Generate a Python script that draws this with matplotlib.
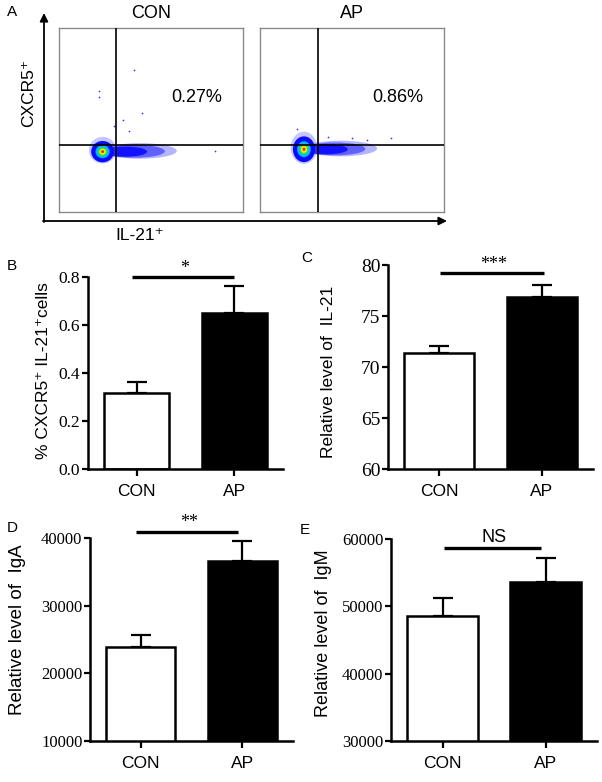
import matplotlib
matplotlib.use('Agg')
import matplotlib.pyplot as plt
from matplotlib.patches import Ellipse

# ── canvas ──────────────────────────────────────────────────────────────────
W, H = 602, 782
SANS = ['Liberation Sans', 'DejaVu Sans']
SERIF = ['Liberation Serif', 'DejaVu Serif']

# ── data ────────────────────────────────────────────────────────────────────
groups = ['CON', 'AP']
flow_pct = ['0.27%', '0.86%']
# gate positions (fraction of each flow box)
gate_x = [0.31, 0.315]
gate_y = [0.365, 0.365]
# population centre, core radii and tail end (fraction of box)
blob_center = [(0.237, 0.328), (0.239, 0.341)]
blob_radius = [(0.062, 0.058), (0.060, 0.070)]
tail_end = [0.64, 0.636]
# sparse events
outliers_con = [(0.41, 0.77), (0.22, 0.66), (0.22, 0.625), (0.45, 0.54),
                (0.35, 0.50), (0.85, 0.33), (0.30, 0.47), (0.38, 0.44)]
outliers_ap = [(0.71, 0.40), (0.37, 0.41), (0.20, 0.45), (0.50, 0.40),
               (0.58, 0.39)]

b_mean = [0.318, 0.648]
b_err = [0.046, 0.113]
c_mean = [71.4, 76.9]
c_err = [0.65, 1.1]
d_mean = [23850, 36600]
d_err = [1750, 2950]
e_mean = [48600, 53650]
e_err = [2600, 3470]


def px_rect(x0, y0, x1, y1):
    """Pixel box (top-left origin) -> figure-fraction rect."""
    return [x0 / W, 1 - y1 / H, (x1 - x0) / W, (y1 - y0) / H]


fig = plt.figure(figsize=(W / 100, H / 100), dpi=100, facecolor='white')

# ── overlay for arrows / free text ──────────────────────────────────────────
ov = fig.add_axes([0, 0, 1, 1])
ov.set_xlim(0, W)
ov.set_ylim(H, 0)
ov.axis('off')

ov.annotate('', xy=(44, 13), xytext=(44, 222),
            arrowprops=dict(arrowstyle='-|>', lw=1.3, color='black',
                            mutation_scale=12, shrinkA=0, shrinkB=0))
ov.annotate('', xy=(447, 221), xytext=(43, 221),
            arrowprops=dict(arrowstyle='-|>', lw=1.3, color='black',
                            mutation_scale=12, shrinkA=0, shrinkB=0))
ov.text(29, 93, 'CXCR5⁺', rotation=90, ha='center', va='center',
        fontsize=12.5, family=SANS)
ov.text(140, 236, 'IL-21⁺', ha='center', va='center', fontsize=12.5,
        family=SANS)

for lbl, (x, y) in zip('ABCDE', [(12, 12), (12, 266), (307, 258),
                                 (12, 528), (305, 530)]):
    ov.text(x, y, lbl, ha='center', va='center', fontsize=11, family=SANS)

# ── panel A: flow plots ─────────────────────────────────────────────────────
flow_boxes = [(59, 28, 243, 212), (260, 28, 444, 212)]
outliers = [outliers_con, outliers_ap]
ring_f = [1.0, 0.62, 0.42, 0.28, 0.13]      # fraction of core radius
ring_c = ['#0a0aff', '#00b4ff', '#2ee05a', '#f2ee00', '#ff1e00']

for i, box in enumerate(flow_boxes):
    ax = fig.add_axes(px_rect(*box))
    ax.set_xlim(0, 1)
    ax.set_ylim(0, 1)
    ax.set_xticks([])
    ax.set_yticks([])
    for sp in ax.spines.values():
        sp.set_edgecolor('#8a8a8a')
        sp.set_linewidth(1.0)
    cx, cy = blob_center[i]
    rx, ry = blob_radius[i]
    tw = tail_end[i] - cx
    # tail: sparse outer layer, then denser inner layer
    ax.add_patch(Ellipse((cx + tw * 0.5, cy + 0.004), tw, 0.085,
                         color='#7878ff', alpha=0.55, lw=0, zorder=1))
    ax.add_patch(Ellipse((cx + tw * 0.42, cy + 0.002), tw * 0.84, 0.07,
                         color='#3c3cff', alpha=0.7, lw=0, zorder=1))
    ax.add_patch(Ellipse((cx + tw * 0.3, cy), tw * 0.6, 0.055,
                         color='#0a0aff', alpha=0.9, lw=0, zorder=1))
    # fuzzy rim round the core
    ax.add_patch(Ellipse((cx, cy + 0.008), 2.4 * rx, 2.5 * ry,
                         color='#5a5aff', alpha=0.35, lw=0, zorder=1))
    for f, c in zip(ring_f, ring_c):
        ax.add_patch(Ellipse((cx, cy), 2 * rx * f, 2 * ry * f, color=c,
                             lw=0, zorder=2))
    ox = [p[0] for p in outliers[i]]
    oy = [p[1] for p in outliers[i]]
    ax.scatter(ox, oy, s=1.5, color='#3030ff', lw=0, zorder=2)
    ax.axvline(gate_x[i], color='black', lw=1.2, zorder=3)
    ax.axhline(gate_y[i], color='black', lw=1.2, zorder=3)
    ax.text(0.5, 1.03, groups[i], transform=ax.transAxes, ha='center',
            va='bottom', fontsize=13, family=SANS)
    ax.text(0.75, 0.62, flow_pct[i], transform=ax.transAxes, ha='center',
            va='center', fontsize=13, family=SANS)


# ── bar panels ──────────────────────────────────────────────────────────────
def bar_panel(box, means, errs, ylim, yticks, yfmt, ylabel, label_xy,
              label_size, tick_size, width, sig_x, sig_y, sig_text,
              sig_font, sig_size, star_dy):
    ax = fig.add_axes(px_rect(*box))
    x = [0, 1]
    ax.errorbar(x, means, yerr=[[0, 0], errs], fmt='none', ecolor='black',
                elinewidth=1.6, capsize=7, capthick=1.6, zorder=1)
    ax.bar(x, means, width, color=['white', 'black'], edgecolor='black',
           linewidth=1.8, zorder=2)
    ax.set_xlim(-0.5, 1.5)
    ax.set_ylim(*ylim)
    for s in ['top', 'right']:
        ax.spines[s].set_visible(False)
    for s in ['left', 'bottom']:
        ax.spines[s].set_linewidth(1.8)
    ax.tick_params(axis='y', direction='out', length=4.5, width=1.6, pad=1)
    ax.tick_params(axis='x', direction='out', length=5, width=1.6, pad=6)
    ax.set_yticks(yticks)
    ax.set_yticklabels([yfmt.format(t) for t in yticks])
    ax.set_xticks(x)
    ax.set_xticklabels(groups)
    for t in ax.get_yticklabels():
        t.set_fontfamily(SERIF)
        t.set_fontsize(tick_size)
    for t in ax.get_xticklabels():
        t.set_fontfamily(SANS)
        t.set_fontsize(12.5)
    ax.text(label_xy[0], label_xy[1], ylabel, transform=ax.transAxes,
            rotation=90, ha='center', va='center', fontsize=label_size,
            family=SANS)
    ax.plot(sig_x, [sig_y, sig_y], color='black', lw=2.4, clip_on=False,
            solid_capstyle='butt')
    ax.text(sum(sig_x) / 2 + 0.02, sig_y + star_dy, sig_text, ha='center',
            va='bottom', fontsize=sig_size, family=sig_font, clip_on=False)
    return ax


bar_panel((88, 277, 283, 469), b_mean, b_err, (0, 0.8),
          [0, 0.2, 0.4, 0.6, 0.8], '{:.1f}', '% CXCR5⁺ IL-21⁺cells',
          (-0.23, 0.515), 12.5, 12.5, 0.67, [-0.05, 1.0], 0.8, '*',
          SERIF, 13, 0.0)

bar_panel((388, 265, 593, 469), c_mean, c_err, (60, 80),
          [60, 65, 70, 75, 80], '{:.0f}', 'Relative level of  IL-21',
          (-0.29, 0.475), 12.5, 14, 0.68, [0.01, 1.02], 79.2, '***',
          SERIF, 13, 0.05)

bar_panel((90, 538, 293, 741), d_mean, d_err, (10000, 40000),
          [10000, 20000, 30000, 40000], '{:.0f}', 'Relative level of  IgA',
          (-0.355, 0.55), 13.5, 12, 0.68, [-0.045, 0.96], 40900, '**',
          SERIF, 13, 200)

bar_panel((391, 539, 597, 741), e_mean, e_err, (30000, 60000),
          [30000, 40000, 50000, 60000], '{:.0f}', 'Relative level of  IgM',
          (-0.33, 0.535), 13, 12, 0.68, [0.01, 0.955], 58620, 'NS',
          SANS, 13, 400)

fig.savefig('out.png', dpi=100, facecolor='white')
